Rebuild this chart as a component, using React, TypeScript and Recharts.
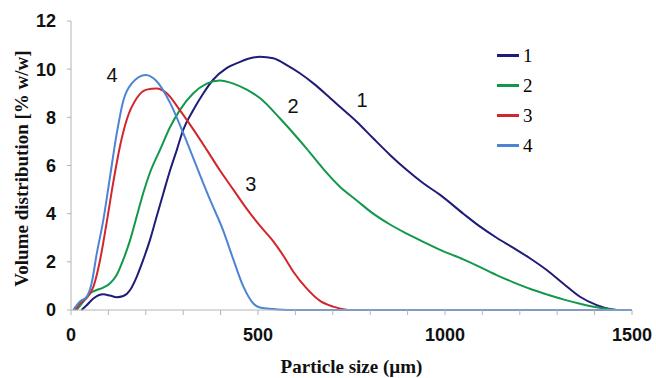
import React from 'react'
import {
  LineChart, Line, XAxis, YAxis, ReferenceDot, Label,
} from 'recharts'

// particle size (µm) / volume distribution (% w/w) for each sample
const size1 = [28, 42, 60, 86, 104, 122, 140, 158, 176, 193, 211, 229, 247, 265, 283, 300, 327, 354, 380, 416, 452, 479, 505, 541, 577, 612, 648, 684, 719, 764, 808, 853, 898, 942, 987, 1049, 1094, 1138, 1183, 1227, 1272, 1316, 1361, 1406, 1441, 1460]
const vol1 = [0, 0.2, 0.48, 0.65, 0.6, 0.53, 0.58, 0.83, 1.39, 2.08, 2.9, 3.88, 4.85, 5.8, 6.65, 7.48, 8.3, 9.0, 9.56, 10.04, 10.3, 10.45, 10.52, 10.45, 10.17, 9.83, 9.41, 8.93, 8.44, 7.82, 7.13, 6.44, 5.81, 5.26, 4.78, 4.0, 3.46, 3.0, 2.58, 2.15, 1.66, 1.1, 0.55, 0.2, 0.04, 0]

const size2 = [15, 33, 51, 69, 86, 104, 122, 140, 158, 176, 193, 211, 238, 265, 291, 327, 363, 398, 434, 470, 505, 559, 594, 630, 675, 719, 764, 808, 853, 898, 942, 987, 1049, 1094, 1138, 1183, 1227, 1272, 1316, 1361, 1406, 1441, 1455]
const vol2 = [0, 0.35, 0.7, 0.83, 0.93, 1.1, 1.45, 2.1, 2.9, 3.9, 4.85, 5.7, 6.65, 7.6, 8.3, 9.0, 9.4, 9.53, 9.4, 9.15, 8.8, 7.95, 7.35, 6.7, 5.85, 5.12, 4.55, 4.0, 3.55, 3.17, 2.83, 2.5, 2.1, 1.78, 1.45, 1.15, 0.88, 0.65, 0.44, 0.26, 0.11, 0.03, 0]

const size3 = [11, 24, 42, 60, 78, 95, 113, 131, 149, 176, 202, 229, 256, 291, 327, 363, 398, 434, 470, 505, 541, 568, 594, 630, 666, 701, 740]
const vol3 = [0, 0.28, 0.5, 0.97, 2.1, 3.6, 5.3, 6.8, 7.9, 8.8, 9.15, 9.2, 9.0, 8.3, 7.5, 6.65, 5.8, 5.0, 4.2, 3.5, 2.85, 2.25, 1.6, 0.9, 0.38, 0.14, 0]

const size4 = [6, 24, 42, 55, 69, 86, 104, 122, 140, 162, 200, 229, 265, 300, 336, 372, 407, 434, 461, 487, 505, 540, 585, 1500]
const vol4 = [0, 0.35, 0.55, 1.1, 2.35, 3.7, 5.5, 7.3, 8.7, 9.4, 9.76, 9.5, 8.6, 7.35, 5.95, 4.57, 3.3, 2.1, 0.97, 0.28, 0.1, 0.04, 0, 0]

const seriesNames = ['1', '2', '3', '4']
const seriesColors = ['#1f1c78', '#12984a', '#d0262c', '#4d84d4']

const xTicks = [0, 100, 200, 300, 400, 500, 600, 700, 800, 900, 1000, 1100, 1200, 1300, 1400, 1500]
const yTicks = [0, 2, 4, 6, 8, 10, 12]

// curve number labels placed next to each curve
const notes = [
  { text: '4', x: 110, y: 9.76 },
  { text: '2', x: 594, y: 8.47 },
  { text: '1', x: 778, y: 8.72 },
  { text: '3', x: 481, y: 5.23 },
]

const toPoints = (xs: number[], ys: number[]) => xs.map((x, i) => ({ x, y: ys[i] }))
const series = [
  toPoints(size1, vol1),
  toPoints(size2, vol2),
  toPoints(size3, vol3),
  toPoints(size4, vol4),
]

const AXIS = '#b4b4b4'
const SANS = '"Liberation Sans", Arial, sans-serif'
const SERIF = '"Liberation Serif", "Times New Roman", serif'

function LegendBox() {
  return (
    <div style={{ position: 'absolute', left: 497, top: 40, fontFamily: SERIF, fontSize: 19, color: '#000', lineHeight: 1 }}>
      {seriesNames.map((n, i) => (
        <div key={n} style={{ display: 'flex', alignItems: 'center', height: 30 }}>
          <div style={{ width: 22, height: 3, background: seriesColors[i], marginRight: 4 }} />
          <span>{n}</span>
        </div>
      ))}
    </div>
  )
}

export default function App() {
  return (
    <div style={{ position: 'absolute', left: 0, top: 0, width: 656, height: 378, background: '#fff' }}>
      <LineChart width={656} height={378} margin={{ top: 21, right: 24, bottom: 0, left: 0 }}>
        <XAxis
          type="number"
          dataKey="x"
          domain={[0, 1500]}
          ticks={xTicks}
          tickFormatter={(v: number) => (v % 500 === 0 ? String(v) : '')}
          interval={0}
          height={68}
          stroke={AXIS}
          tickSize={5}
          tickMargin={13}
          tick={{ fontSize: 18, fontWeight: 'bold', fill: '#111', fontFamily: SANS }}
        >
          <Label
            content={({ viewBox }: any) => (
              <text
                x={viewBox.x + viewBox.width / 2}
                y={viewBox.y + 63}
                textAnchor="middle"
                fontFamily={SERIF}
                fontWeight="bold"
                fontSize={19}
                fill="#111"
              >
                Particle size (µm)
              </text>
            )}
          />
        </XAxis>
        <YAxis
          type="number"
          domain={[0, 12]}
          ticks={yTicks}
          width={71}
          stroke={AXIS}
          tickSize={4}
          tickMargin={11}
          tick={{ fontSize: 18, fontWeight: 'bold', fill: '#111', fontFamily: SANS }}
        >
          <Label
            content={({ viewBox }: any) => {
              const cx = 21
              const cy = viewBox.y + viewBox.height / 2 + 3
              return (
                <text
                  x={cx}
                  y={cy}
                  transform={`rotate(-90 ${cx} ${cy})`}
                  textAnchor="middle"
                  dominantBaseline="central"
                  fontFamily={SERIF}
                  fontWeight="bold"
                  fontSize={19}
                  fill="#111"
                >
                  Volume distribution [% w/w]
                </text>
              )
            }}
          />
        </YAxis>
        {series.map((pts, i) => (
          <Line
            key={seriesNames[i]}
            data={pts}
            dataKey="y"
            name={seriesNames[i]}
            type="monotone"
            stroke={seriesColors[i]}
            strokeWidth={2}
            dot={false}
            activeDot={false}
            isAnimationActive={false}
          />
        ))}
        {notes.map((n) => (
          <ReferenceDot
            key={n.text}
            x={n.x}
            y={n.y}
            r={0}
            fill="none"
            stroke="none"
            label={{ value: n.text, position: 'center', fontSize: 20, fill: '#111', fontFamily: SANS }}
          />
        ))}
      </LineChart>
      <LegendBox />
    </div>
  )
}
